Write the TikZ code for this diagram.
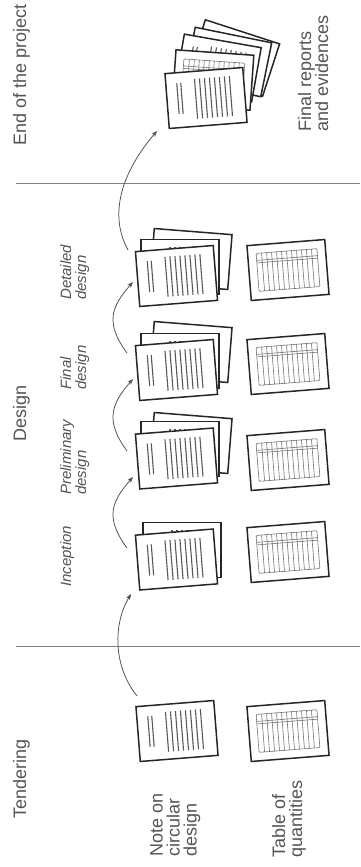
\documentclass[tikz,border=0pt]{standalone}
\usepackage{fontspec}
\setmainfont{Liberation Sans}
\usetikzlibrary{arrows.meta}
\definecolor{ink}{gray}{0.15}
\definecolor{txt}{gray}{0.33}
\tikzset{
  pagebox/.style={draw=ink,fill=white,line width=1.5pt,minimum width=78pt,minimum height=55pt,inner sep=0pt,outer sep=0pt},
  textline/.style={draw=black!65,line width=1.1pt},
  gridline/.style={draw=black!55,line width=.6pt},
  flow/.style={draw=black!70,line width=.75pt,-{Stealth[length=6pt,width=4.5pt]}},
  divider/.style={draw=black!50,line width=.8pt},
  head/.style={rotate=90,anchor=north west,inner sep=0pt,text=txt,align=left,font=\fontsize{18}{17}\selectfont},
  stage/.style={rotate=90,anchor=north west,inner sep=0pt,text=txt,align=left,font=\fontsize{15}{15}\selectfont\itshape},
}
\newcommand{\txtlines}{%
  \foreach \u in {-28,-24}{\draw[textline] (\u,-17) -- (\u,14);}
  \foreach \u in {-10,-5,0,5,10,15,20,25}{\draw[textline] (\u,-20) -- (\u,20);}
}
\newcommand{\gridlines}{%
  \foreach \u in {-25,-20,-15,-10,-5,0,5,10,15,20,25}{\draw[gridline] (\u,-19) -- (\u,19);}
  \draw[gridline,rounded corners=1pt] (-30.5,-19) rectangle (30.5,19);
  \draw[gridline] (-30.5,-12) -- (30.5,-12);
  \draw[gridline] (-30.5,-9.5) -- (30.5,-9.5);
}
\newcommand{\blankpage}[4]{\node[pagebox,rotate=#4] (#1) at (#2,#3) {};}
\newcommand{\notepage}[4]{\node[pagebox,rotate=#4] (#1) at (#2,#3) {};
  \begin{scope}[shift={(#2,#3)},rotate=#4]\txtlines\end{scope}}
\newcommand{\tablepage}[4]{\node[pagebox,rotate=#4] (#1) at (#2,#3) {};
  \begin{scope}[shift={(#2,#3)},rotate=#4]\gridlines\end{scope}}
\begin{document}
\begin{tikzpicture}[x=1pt,y=-1pt]
\useasboundingbox (0,0) rectangle (360,867);
% dividers
\coordinate (d1a) at (16,183); \coordinate (d1b) at (360,183);
\coordinate (d2a) at (16,646); \coordinate (d2b) at (360,646);
\draw[divider] (d1a) -- (d1b);
\draw[divider] (d2a) -- (d2b);
% headings
\node[head] (hend) at (13,146) {End of the project};
\node[head] (hdes) at (13,442) {Design};
\node[head] (hten) at (13,819) {Tendering};
% stage labels
\node[stage] (sdet) at (60,300) {Detailed\\design};
\node[stage] (sfin) at (60,390) {Final\\design};
\node[stage] (spre) at (60,495) {Preliminary\\design};
\node[stage] (sinc) at (60,587) {Inception};
% bottom labels
\node[head] (lnote) at (150,857) {Note on\\circular\\design};
\node[head] (ltab) at (272,858) {Table of\\quantities};
\node[head] (lfin) at (298,132) {Final reports\\and evidences};
% final stack
\blankpage{fe}{234}{58}{-18}
\blankpage{fd}{228}{62}{-11.5}
\notepage{fc}{218}{68}{-10}
\tablepage{fb}{213}{80}{-4}
\notepage{fa}{206}{98}{4.5}
% detailed
\blankpage{dc}{191}{259}{-4.5}
\notepage{db}{180}{267}{0}
\notepage{da}{176.5}{276}{4.5}
\tablepage{dt}{288}{270}{4.5}
% final
\blankpage{ic}{191}{352}{-4.5}
\notepage{ib}{180}{361}{0}
\notepage{ia}{176.5}{370}{4.5}
\tablepage{it}{288}{364}{4.5}
% preliminary
\blankpage{pc}{191}{443}{-4.5}
\notepage{pb}{180}{449}{0}
\notepage{pa}{176.5}{458.5}{4.5}
\tablepage{pt}{288}{460}{4.5}
% inception
\notepage{nb}{182}{550}{0}
\notepage{na}{176.5}{559.5}{4.5}
\tablepage{nt}{288}{552}{4.5}
% tendering
\notepage{tn}{177}{731}{4.5}
\tablepage{tt}{288}{731}{4.5}
% arrows
\coordinate (a0s) at (137,696); \coordinate (a0e) at (131,594);
\coordinate (a1s) at (127,548); \coordinate (a1e) at (133,477);
\coordinate (a2s) at (127,451); \coordinate (a2e) at (133,379);
\coordinate (a3s) at (127,353); \coordinate (a3e) at (133,282);
\coordinate (a4s) at (128,250); \coordinate (a4e) at (157,131);
\draw[flow] (a0s) .. controls +(-24,-30) and +(-18,30) .. (a0e);
\draw[flow] (a1s) .. controls +(-22,-30) and +(-22,25) .. (a1e);
\draw[flow] (a2s) .. controls +(-22,-30) and +(-22,25) .. (a2e);
\draw[flow] (a3s) .. controls +(-22,-30) and +(-22,25) .. (a3e);
\draw[flow] (a4s) .. controls +(-22,-40) and +(-30,35) .. (a4e);
\end{tikzpicture}
\end{document}
